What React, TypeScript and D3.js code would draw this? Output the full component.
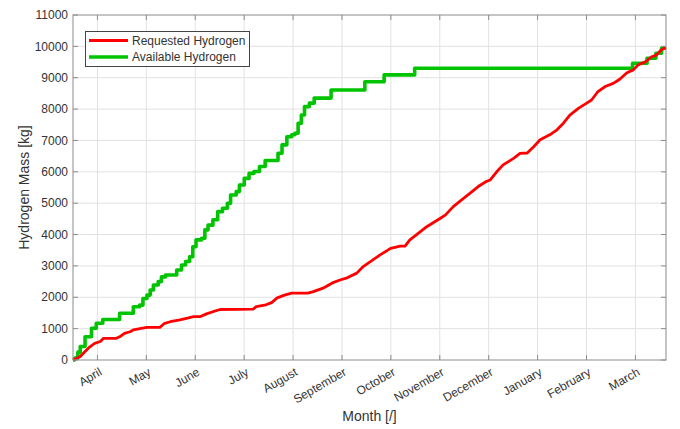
import React from "react";
import * as d3 from "d3";

// Cumulative hydrogen mass over the year; x is days since the start of the run.
const requestedDays = [0, 4.5, 7.5, 10.5, 13.5, 17, 19, 27, 29, 32, 35.5, 37.5, 42.5, 46, 54, 57, 60.5, 66.5, 70.5, 75, 79, 83, 87, 91.5, 112, 114, 120, 123.5, 127, 131.5, 136, 146, 149.5, 155.5, 161, 166, 170.5, 176.5, 180.5, 186.5, 191, 197.5, 203.5, 206.5, 209.5, 213.5, 220, 228.5, 231.5, 236.5, 241.5, 247, 252, 257, 259.5, 263.5, 267.5, 274, 278, 282.5, 286.5, 290.5, 296.5, 301, 305, 309, 314.5, 319.5, 322.5, 326.5, 331, 336, 340, 344.5, 348.5, 351.5, 356, 360, 363, 366, 368.8];
const requestedKg = [0, 110, 270, 420, 530, 590, 690, 690, 740, 850, 900, 960, 1010, 1040, 1040, 1170, 1220, 1280, 1330, 1380, 1380, 1470, 1540, 1610, 1620, 1700, 1760, 1830, 1980, 2070, 2130, 2130, 2180, 2290, 2450, 2550, 2620, 2770, 2980, 3190, 3350, 3560, 3630, 3630, 3830, 3990, 4250, 4520, 4620, 4890, 5100, 5320, 5530, 5690, 5740, 6000, 6220, 6430, 6590, 6600, 6800, 7020, 7180, 7340, 7550, 7810, 8030, 8190, 8290, 8560, 8720, 8820, 8950, 9160, 9250, 9410, 9510, 9670, 9730, 9890, 9960];

const availableDays = [0, 1, 3, 4.5, 7.5, 11.5, 14.5, 18.5, 29, 37.5, 41.5, 43.5, 46, 48, 50, 53, 55, 57.5, 64.5, 67.5, 70, 72.5, 74.5, 76.5, 80, 82, 84, 87, 90, 93, 96, 98, 101.5, 103.5, 106.5, 109.5, 112.5, 116, 119.5, 127.5, 130, 133, 136, 138, 140, 142, 144, 147, 150, 160.5, 181.5, 193.5, 212.5, 348, 357, 362.5, 366, 368.8];
const availableKg = [0, 60, 250, 430, 740, 1010, 1170, 1290, 1490, 1700, 1750, 1960, 2070, 2230, 2390, 2500, 2650, 2710, 2870, 3030, 3140, 3290, 3610, 3830, 3880, 4150, 4300, 4470, 4730, 4840, 5000, 5260, 5370, 5580, 5790, 5950, 6010, 6170, 6360, 6590, 6860, 7120, 7180, 7230, 7550, 7810, 8080, 8190, 8350, 8610, 8870, 9090, 9300, 9460, 9620, 9780, 9940, 9940];

const monthLabels = ["April", "May", "June", "July", "August", "September", "October", "November", "December", "January", "February", "March"];
const yTicks = d3.range(0, 11001, 1000);

const W = 680;
const H = 429;
const plot = { left: 73, right: 666, top: 15, bottom: 360 };
const DAY_END = 368.8;
const FIRST_TICK = 15.2;
const MONTH = 365 / 12;

const FONT = "'Liberation Sans', Arial, Helvetica, sans-serif";
const TEXT = "#333333";
const AXIS = "#8c8c8c";
const GRID = "#e2e2e2";
const RED = "#ff0000";
const GREEN = "#00c400";

export default function App() {
  const x = d3.scaleLinear().domain([0, DAY_END]).range([plot.left, plot.right]);
  const y = d3.scaleLinear().domain([0, 11000]).range([plot.bottom, plot.top]);
  const monthTicks = monthLabels.map((_, i) => FIRST_TICK + i * MONTH);

  const requested = requestedDays.map((d, i) => [d, requestedKg[i]] as [number, number]);
  const available = availableDays.map((d, i) => [d, availableKg[i]] as [number, number]);

  const redLine = d3.line<[number, number]>().x((p) => x(p[0])).y((p) => y(p[1]));
  const greenLine = d3
    .line<[number, number]>()
    .x((p) => x(p[0]))
    .y((p) => y(p[1]))
    .curve(d3.curveStepAfter);

  const tickLen = 5;

  return (
    <svg
      width={W}
      height={H}
      viewBox={`0 0 ${W} ${H}`}
      style={{ position: "absolute", left: 0, top: 0, background: "#fff" }}
      fontFamily={FONT}
    >
      <rect x={0} y={0} width={W} height={H} fill="#fff" />
      <rect x={plot.left} y={plot.top} width={plot.right - plot.left} height={plot.bottom - plot.top} fill="#fff" />

      {/* grid */}
      <g stroke={GRID} strokeWidth={1}>
        {yTicks.slice(1, -1).map((v) => (
          <line key={`gy${v}`} x1={plot.left} x2={plot.right} y1={y(v)} y2={y(v)} />
        ))}
        {monthTicks.map((d, i) => (
          <line key={`gx${i}`} x1={x(d)} x2={x(d)} y1={plot.top} y2={plot.bottom} />
        ))}
      </g>

      {/* series */}
      <path d={greenLine(available) || ""} fill="none" stroke={GREEN} strokeWidth={3.6} strokeLinejoin="round" />
      <path d={redLine(requested) || ""} fill="none" stroke={RED} strokeWidth={2.8} strokeLinejoin="round" />

      {/* axes box and inward ticks */}
      <g stroke={AXIS} strokeWidth={1} fill="none">
        <rect x={plot.left} y={plot.top} width={plot.right - plot.left} height={plot.bottom - plot.top} />
        {yTicks.map((v) => (
          <g key={`ty${v}`}>
            <line x1={plot.left} x2={plot.left + tickLen} y1={y(v)} y2={y(v)} />
            <line x1={plot.right} x2={plot.right - tickLen} y1={y(v)} y2={y(v)} />
          </g>
        ))}
        {monthTicks.map((d, i) => (
          <g key={`tx${i}`}>
            <line x1={x(d)} x2={x(d)} y1={plot.bottom} y2={plot.bottom - tickLen} />
            <line x1={x(d)} x2={x(d)} y1={plot.top} y2={plot.top + tickLen} />
          </g>
        ))}
      </g>

      {/* y tick labels */}
      <g fontSize={12} fill={TEXT} textAnchor="end">
        {yTicks.map((v) => (
          <text key={`ly${v}`} x={plot.left - 5} y={y(v)} dy="0.35em">
            {v}
          </text>
        ))}
      </g>

      {/* month labels */}
      <g fontSize={12} fill={TEXT} textAnchor="end">
        {monthTicks.map((d, i) => (
          <text key={`lx${i}`} transform={`translate(${x(d) + 1},${plot.bottom + 7}) rotate(-30)`} dy="0.71em">
            {monthLabels[i]}
          </text>
        ))}
      </g>

      {/* axis titles */}
      <text x={(plot.left + plot.right) / 2} y={421} fontSize={14} fill={TEXT} textAnchor="middle">
        Month [/]
      </text>
      <text
        transform={`translate(29,${(plot.top + plot.bottom) / 2}) rotate(-90)`}
        fontSize={14}
        fill={TEXT}
        textAnchor="middle"
      >
        Hydrogen Mass [kg]
      </text>

      {/* legend */}
      <g>
        <rect x={85.5} y={31.5} width={164} height={35} fill="#fff" stroke="#444" strokeWidth={1} />
        <line x1={89} x2={128} y1={40.5} y2={40.5} stroke={RED} strokeWidth={2.8} />
        <line x1={89} x2={128} y1={57} y2={57} stroke={GREEN} strokeWidth={3.6} />
        <text x={132} y={40.5} dy="0.35em" fontSize={12} fill={TEXT}>
          Requested Hydrogen
        </text>
        <text x={132} y={57} dy="0.35em" fontSize={12} fill={TEXT}>
          Available Hydrogen
        </text>
      </g>
    </svg>
  );
}
